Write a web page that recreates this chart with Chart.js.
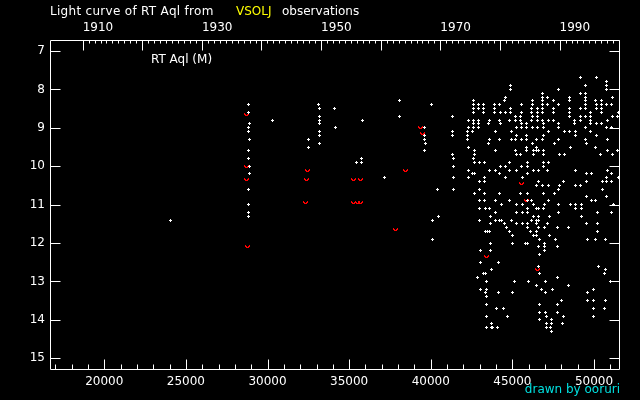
<!DOCTYPE html>
<html>
<head>
<meta charset="utf-8">
<script src="https://cdn.jsdelivr.net/npm/chart.js@4.4.0/dist/chart.umd.min.js"></script>
<style>
  html, body { margin: 0; padding: 0; background: #000; }
  canvas { display: block; }
</style>
</head>
<body>
<canvas id="lightCurve" width="640" height="400"></canvas>
<script>
// axis ranges (JD - 2400000, visual magnitude)
const jdMin = 16673, jdMax = 51593;
const magTop = 6.714, magBottom = 15.305;

const jdTickLabels = [20000, 25000, 30000, 35000, 40000, 45000, 50000];
const yearTickLabels = [1910, 1930, 1950, 1970, 1990];
const magTickLabels = [7, 8, 9, 10, 11, 12, 13, 14, 15];

// visual estimates, one row per magnitude
const obsMagRows = [7.7, 7.8, 7.9, 8.0, 8.1, 8.2, 8.3, 8.4, 8.5, 8.6, 8.7, 8.8, 8.9,
  9.0, 9.1, 9.2, 9.3, 9.4, 9.5, 9.6, 9.7, 9.8, 9.9,
  10.0, 10.1, 10.2, 10.3, 10.4, 10.5, 10.6, 10.7, 10.8, 10.9,
  11.0, 11.1, 11.2, 11.3, 11.4, 11.5, 11.6, 11.7, 11.8, 11.9,
  12.0, 12.1, 12.2, 12.3, 12.5, 12.6, 12.7, 12.8, 12.9,
  13.0, 13.1, 13.2, 13.3, 13.4, 13.5, 13.6, 13.7, 13.8, 13.9,
  14.0, 14.1, 14.2, 14.3];
const obsJDRows = [
  [49161, 50141],
  [50753],
  [44874, 49467, 50753],
  [44874, 47814, 50753],
  [46834, 49161, 49467],
  [44567, 46834, 47140, 48487, 49467, 51121],
  [38075, 42607, 44531, 46221, 46834, 47507, 48487, 49467, 50104, 50447],
  [28826, 33113, 40035, 42607, 42914, 43244, 43894, 44200, 45548, 46221, 46834, 47164, 47814, 49467, 50141, 50447, 50753, 51059],
  [33156, 34094, 42607, 42914, 43220, 43894, 44874, 46160, 46528, 46834, 47507, 48487, 49161, 49467, 50141, 50447],
  [28826, 42607, 43220, 43894, 44261, 44567, 44874, 45548, 46160, 46528, 46834, 47507, 48487, 49774, 50447, 51488],
  [33156, 38075, 41321, 45180, 45486, 46221, 46528, 48487, 49161, 49467, 49774, 51121, 51427],
  [30296, 33156, 35808, 42301, 42607, 42914, 43587, 44224, 44812, 45180, 45486, 46160, 46528, 46834, 47201, 47507, 48794, 49161, 49774, 50815],
  [28887, 33175, 42607, 42914, 43551, 44261, 45548, 45854, 46895, 47814, 48794, 49774, 50141, 50447],
  [28851, 34155, 39606, 42301, 42607, 42914, 45241, 45548, 45854, 46221, 46528, 46895, 47814, 49467, 50753, 51059],
  [28826, 33175, 41321, 42264, 42571, 43955, 44935, 47201, 48181, 48487, 48855, 49774],
  [33175, 39606, 41321, 42264, 45241, 45854, 46895, 48855, 50141],
  [28887, 32501, 39606, 42240, 43587, 44200, 44935, 45180, 45548, 45854, 46466, 46834, 47814, 49467, 50815],
  [33175, 39667, 43526, 46221, 47569, 49529],
  [32501, 42301, 45854, 46466, 48549, 50080],
  [28851, 39606, 42669, 43955, 45180, 45854, 46283, 46466, 46589, 46895, 50815, 51427],
  [41321, 42669, 45241, 45486, 46283, 46895, 47875, 48181, 50386, 51121],
  [28826, 35747, 41382, 42607],
  [35441, 35747, 42669, 42975, 43281, 44812, 45915, 46895, 47201],
  [28887, 41382, 44261, 44567, 45548, 45915, 46895],
  [42301, 43587, 43955, 44812, 45241, 46283, 46589, 47140, 48855, 50815],
  [28887, 42546, 42669, 44200, 45915, 49529, 49835, 51059],
  [37156, 41382, 42301, 43281, 44567, 45609, 50753, 51488],
  [42975, 43281, 46589, 48120, 49529, 50508, 50753, 51059],
  [46466, 46834, 47201, 47875, 48855, 49161],
  [28826, 40402, 41382, 42975, 47814, 50508],
  [42669, 43281, 44200, 45486, 45915, 46895, 47569],
  [49529, 50753],
  [42975, 43281, 43955, 44812, 45915, 46160, 47201, 49835, 50080],
  [28826, 44322, 45241, 45609, 46283, 46956, 47814, 48549, 48855, 49222, 51182],
  [42975, 43342, 43587, 45915, 46466, 46589, 46895, 48855, 49222],
  [28826, 43955, 45241, 45609, 45915, 47814, 50202, 51059],
  [28826, 40464, 43649, 46283, 46589, 47262, 49222],
  [24050, 40096, 42975, 43955, 44200, 44322, 44935, 46160, 46466, 46589],
  [43649, 44506, 45241, 45609, 45915, 46466, 47140, 49529, 50202],
  [44629, 45915, 46589, 46956, 47752, 48426],
  [43342, 43465, 43587, 44812, 46099, 46466, 50202],
  [44996, 46283, 46466, 47262],
  [40096, 46650, 47630, 49590, 50080, 50692],
  [43649, 44996, 45793, 45915, 46956],
  [46620, 46956, 47752],
  [43036, 43649, 46956],
  [46650],
  [43036, 44139],
  [46589, 50263],
  [43710, 50692],
  [43220, 43342, 46650, 50631],
  [42852, 47752],
  [43404, 45119, 45976, 47017, 50998],
  [46466, 48426],
  [43036, 43404, 46773, 47446, 49957],
  [43342, 44139, 44996, 47017, 49590],
  [43404],
  [47997, 49590, 49957, 50692],
  [43404, 46650, 47752],
  [44016, 44445, 49957, 50631],
  [46650, 47017, 47752],
  [43404, 44690, 47079, 48120, 49957],
  [46650, 47385],
  [43710, 47079, 47385, 48059],
  [43404, 43710, 43771, 44077, 47079, 47324],
  [47385]
];

// "fainter than" estimates
const limJD  = [28685, 28704, 28704, 28765, 32440, 32378, 32317, 35257, 35668, 35257, 35484, 35668,
  38442, 37830, 39361, 39508, 45548, 45854, 43404, 46528];
const limMag = [8.65, 10.0, 10.35, 12.1, 10.1, 10.35, 10.95, 10.35, 10.35, 10.95, 10.95, 10.95,
  10.1, 11.65, 9.0, 9.15, 10.45, 10.9, 12.35, 12.7];

function yearToJD(year) {
  return Date.UTC(year, 0, 1) / 86400000 + 2440587.5 - 2400000;
}

// small pixel markers used as point styles
function makeMark(rows, color) {
  const c = document.createElement('canvas');
  c.width = rows[0].length;
  c.height = rows.length;
  const g = c.getContext('2d');
  g.fillStyle = color;
  rows.forEach((row, j) => {
    for (let i = 0; i < row.length; i++) {
      if (row[i] === 'X') g.fillRect(i, j, 1, 1);
    }
  });
  return c;
}

const plusMark = makeMark(['.X.', 'XXX', '.X.'], '#ffffff');
const vMark = makeMark(['X...X', 'XX.XX', '.XXX.'], '#ff0000');

const obsPoints = [];
obsJDRows.forEach((row, i) => {
  row.forEach(jd => obsPoints.push({ x: jd, y: obsMagRows[i] }));
});
const limPoints = limJD.map((jd, i) => ({ x: jd, y: limMag[i] }));

const labelFont = { family: 'DejaVu Sans', size: 12 };

const frameAndTicks = {
  id: 'frameAndTicks',
  beforeDraw(chart) {
    const ctx = chart.ctx;
    ctx.save();
    ctx.fillStyle = '#000';
    ctx.fillRect(0, 0, chart.width, chart.height);
    ctx.restore();
  },
  beforeDatasetsDraw(chart) {
    chart.ctx.save();
    chart.ctx.imageSmoothingEnabled = false;
  },
  afterDatasetsDraw(chart) {
    chart.ctx.restore();
  },
  afterDraw(chart) {
    const { ctx, chartArea: a, scales } = chart;
    const L = Math.round(a.left) + 0.5, R = Math.round(a.right) - 0.5;
    const T = Math.round(a.top) + 0.5, B = Math.round(a.bottom) - 0.5;
    ctx.save();
    ctx.strokeStyle = '#fff';
    ctx.lineWidth = 1;
    ctx.beginPath();
    ctx.rect(L, T, R - L, B - T);
    magTickLabels.forEach(m => {
      const y = Math.round(scales.y.getPixelForValue(m)) + 0.5;
      ctx.moveTo(L, y); ctx.lineTo(L + 10, y);
      ctx.moveTo(R, y); ctx.lineTo(R - 10, y);
    });
    for (let jd = 17000; jd <= 51000; jd += 1000) {
      const x = Math.round(scales.x.getPixelForValue(jd)) + 0.5;
      const len = jd % 5000 === 0 ? 10 : 5;
      ctx.moveTo(x, B); ctx.lineTo(x, B - len);
    }
    for (let yr = 1910; yr <= 2000; yr++) {
      const x = Math.round(scales.x2.getPixelForValue(yearToJD(yr))) + 0.5;
      const len = yr % 10 === 0 ? 10 : 3;
      ctx.moveTo(x, T); ctx.lineTo(x, T + len);
    }
    ctx.stroke();

    ctx.font = '12px "DejaVu Sans"';
    ctx.textBaseline = 'middle';
    ctx.textAlign = 'left';
    ctx.fillStyle = '#fff';
    ctx.letterSpacing = '0.3px';
    ctx.fillText('Light curve of RT Aql from', 50, 12);
    ctx.letterSpacing = '0px';
    ctx.fillStyle = '#ffff00';
    ctx.fillText('VSOLJ', 236, 12);
    ctx.fillStyle = '#fff';
    ctx.fillText('observations', 282, 12);
    ctx.fillText('RT Aql (M)', 151, 60);
    ctx.fillStyle = '#00e0e0';
    ctx.textAlign = 'right';
    ctx.fillText('drawn by ooruri', 620, 390);
    ctx.restore();
  }
};

new Chart(document.getElementById('lightCurve'), {
  type: 'scatter',
  data: {
    datasets: [
      {
        label: 'visual',
        data: obsPoints,
        pointStyle: plusMark,
        pointRadius: 2,
        pointHoverRadius: 2
      },
      {
        label: 'fainter than',
        data: limPoints,
        pointStyle: vMark,
        pointRadius: 2,
        pointHoverRadius: 2
      }
    ]
  },
  options: {
    responsive: false,
    animation: false,
    events: [],
    layout: { padding: { left: 0, right: 20, top: 0, bottom: 0 } },
    plugins: {
      legend: { display: false },
      tooltip: { enabled: false }
    },
    scales: {
      x: {
        type: 'linear',
        position: 'bottom',
        min: jdMin,
        max: jdMax,
        afterBuildTicks: s => { s.ticks = jdTickLabels.map(v => ({ value: v })); },
        afterFit: s => { s.height = 30; },
        grid: { display: false, drawTicks: false },
        border: { display: false },
        ticks: {
          color: '#fff', font: labelFont, padding: 5,
          maxRotation: 0, autoSkip: false,
          callback: v => String(v)
        }
      },
      x2: {
        type: 'linear',
        position: 'top',
        min: jdMin,
        max: jdMax,
        afterBuildTicks: s => { s.ticks = yearTickLabels.map(yr => ({ value: yearToJD(yr) })); },
        afterFit: s => { s.height = 40; },
        grid: { display: false, drawTicks: false },
        border: { display: false },
        ticks: {
          color: '#fff', font: labelFont, padding: 5, align: 'start',
          maxRotation: 0, autoSkip: false,
          callback: (v, i) => String(yearTickLabels[i])
        }
      },
      y: {
        type: 'linear',
        position: 'left',
        reverse: true,
        min: magTop,
        max: magBottom,
        afterBuildTicks: s => { s.ticks = magTickLabels.map(v => ({ value: v })); },
        afterFit: s => { s.width = 50; },
        grid: { display: false, drawTicks: false },
        border: { display: false },
        ticks: {
          color: '#fff', font: labelFont, padding: 5,
          autoSkip: false,
          callback: v => String(v)
        }
      }
    }
  },
  plugins: [frameAndTicks]
});
</script>
</body>
</html>
